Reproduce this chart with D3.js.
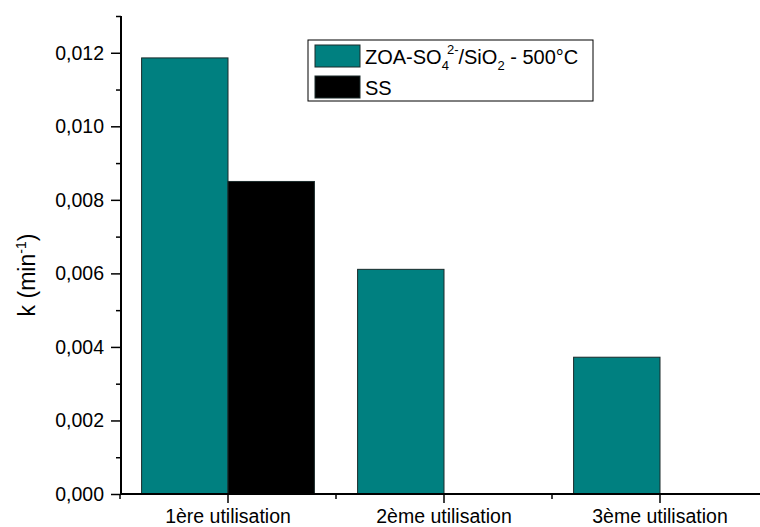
<!DOCTYPE html>
<html><head><meta charset="utf-8">
<script src="https://cdn.jsdelivr.net/npm/d3@7"></script>
<style>body{margin:0;background:#fff;}svg{display:block;font-family:"Liberation Sans",Arial,sans-serif;}</style>
</head><body>
<svg id="chart" width="760" height="527"></svg>
<script>
const categories = ["1ère utilisation", "2ème utilisation", "3ème utilisation"];
const seriesNames = ["ZOA", "SS"];
const zoaValues = [0.01186, 0.00611, 0.00372];
const ssValues = [0.0085, 0, 0];
const yMajorTicks = [0, 0.002, 0.004, 0.006, 0.008, 0.010, 0.012];
const yMinorTicks = [0.001, 0.003, 0.005, 0.007, 0.009, 0.011, 0.013];
const colors = {ZOA: "#008080", SS: "#000000"};

const svg = d3.select("#chart");
const x0 = d3.scaleBand().domain(categories).range([120, 768]).padding(0);
const step = x0.step();
const x1 = d3.scaleBand().domain(seriesNames).range([0.1 * step, 0.9 * step]).padding(0);
const y = d3.scaleLinear().domain([0, 0.013]).range([494, 16]);

const data = categories.map((c, i) => ({cat: c, vals: [{s: "ZOA", v: zoaValues[i]}, {s: "SS", v: ssValues[i]}]}));

// bars
const g = svg.append("g");
data.forEach(d => {
  d.vals.forEach(b => {
    if (b.v <= 0) return;
    g.append("rect")
      .attr("x", x0(d.cat) + x1(b.s))
      .attr("y", y(b.v))
      .attr("width", x1.bandwidth())
      .attr("height", y(0) - y(b.v))
      .attr("fill", colors[b.s])
      .attr("stroke", "#1a2a2a")
      .attr("stroke-width", 1);
  });
});

const fmt = v => d3.format(".3f")(v).replace(".", ",");

// Y axis
const yAxis = d3.axisLeft(y).tickValues(yMajorTicks).tickFormat(fmt).tickSize(10).tickPadding(7);
const ya = svg.append("g").attr("transform", "translate(121,0)").call(yAxis);
ya.select(".domain").remove();
ya.selectAll(".tick line").attr("stroke", "#000").attr("stroke-width", 1.5);
ya.selectAll(".tick text").attr("font-size", 19.5).attr("fill", "#000").attr("font-family", "Liberation Sans, Arial, sans-serif");
const yMinor = d3.axisLeft(y).tickValues(yMinorTicks).tickFormat("").tickSize(5);
const ym = svg.append("g").attr("transform", "translate(121,0)").call(yMinor);
ym.select(".domain").remove();
ym.selectAll(".tick line").attr("stroke", "#000").attr("stroke-width", 1.5);
svg.append("line").attr("x1", 121).attr("x2", 121).attr("y1", y(0.013)).attr("y2", y(0) + 1)
  .attr("stroke", "#000").attr("stroke-width", 2);

// X axis
const xAxis = d3.axisBottom(x0).tickSize(9).tickPadding(5).tickFormat(d => d);
const xa = svg.append("g").attr("transform", "translate(0,494)").call(xAxis);
xa.select(".domain").remove();
xa.selectAll(".tick line").attr("stroke", "#000").attr("stroke-width", 1.5);
xa.selectAll(".tick text").attr("font-size", 19.5).attr("fill", "#000").attr("font-family", "Liberation Sans, Arial, sans-serif").attr("dy", "0.78em");
// minor x ticks at band boundaries
const bounds = categories.map(c => x0(c)).concat([x0(categories[categories.length - 1]) + step]);
svg.append("g").selectAll("line").data(bounds).join("line")
  .attr("x1", d => d).attr("x2", d => d).attr("y1", 494).attr("y2", 499)
  .attr("stroke", "#000").attr("stroke-width", 1.5);
svg.append("line").attr("x1", 120).attr("x2", 768).attr("y1", 494).attr("y2", 494)
  .attr("stroke", "#000").attr("stroke-width", 2);

// Y label
const yl = svg.append("text").attr("transform", "translate(35,275) rotate(-90)")
  .attr("text-anchor", "middle").attr("font-size", 23).attr("fill", "#000");
yl.append("tspan").text("k (min");
yl.append("tspan").attr("font-size", 14).attr("dy", -9).text("-1");
yl.append("tspan").attr("dy", 9).text(")");

// Legend
const lg = svg.append("g");
lg.append("rect").attr("x", 308).attr("y", 40).attr("width", 285).attr("height", 61)
  .attr("fill", "#fff").attr("stroke", "#000").attr("stroke-width", 1);
lg.append("rect").attr("x", 315).attr("y", 45).attr("width", 45).attr("height", 22)
  .attr("fill", colors.ZOA).attr("stroke", "#1a2a2a").attr("stroke-width", 1);
lg.append("rect").attr("x", 315).attr("y", 76).attr("width", 45).attr("height", 22)
  .attr("fill", colors.SS).attr("stroke", "#1a2a2a").attr("stroke-width", 1);
const t1 = lg.append("text").attr("x", 365).attr("y", 64).attr("font-size", 20).attr("fill", "#000");
t1.append("tspan").text("ZOA-SO");
t1.append("tspan").attr("font-size", 13).attr("dy", 6).text("4");
t1.append("tspan").attr("font-size", 13).attr("dy", -16).attr("dx", -2).text("2-");
t1.append("tspan").attr("dy", 10).text("/SiO");
t1.append("tspan").attr("font-size", 13).attr("dy", 6).text("2");
t1.append("tspan").attr("dy", -6).text(" - 500°C");
lg.append("text").attr("x", 365).attr("y", 95).attr("font-size", 20).attr("fill", "#000").text("SS");
</script>
</body></html>
